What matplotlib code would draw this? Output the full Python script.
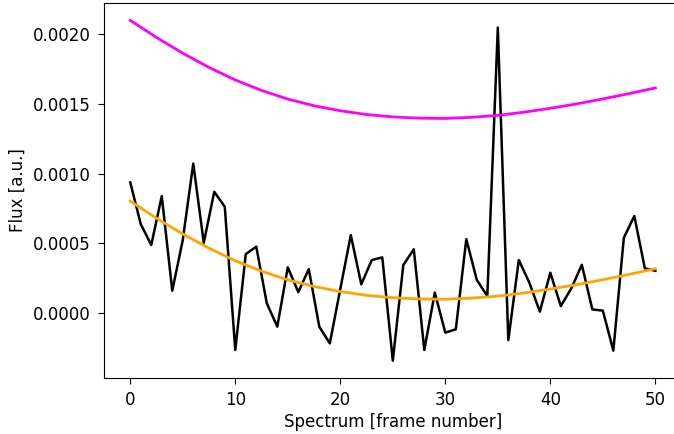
import numpy as np
from matplotlib import pyplot as plt

# frame numbers and measured flux
frames = np.arange(51)
flux = np.array([
    937, 638, 488, 839, 160, 523, 1072, 504, 870, 762,
    -265, 423, 476, 70, -98, 328, 150, 315, -98, -218,
    172, 559, 206, 380, 399, -342, 344, 457, -265, 146,
    -141, -117, 530, 237, 122, 2048, -194, 380, 218, 10,
    289, 50, 177, 346, 26, 17, -270, 540, 696, 320,
    303]) * 1e-6

# smooth curves, read every 2.5 frames
curve_frames = np.arange(0, 50.1, 2.5)
upper_curve = np.array([2100, 1977, 1864, 1762, 1672, 1597, 1535, 1487,
                        1451, 1424, 1407, 1398, 1396, 1404, 1418, 1441,
                        1469, 1500, 1536, 1574, 1615]) * 1e-6
lower_curve = np.array([803, 680, 567, 465, 375, 300, 238, 190,
                        154, 127, 110, 101, 99, 107, 121, 144,
                        172, 203, 239, 277, 318]) * 1e-6

plt.rcParams['font.family'] = ['DejaVu Sans']
plt.rcParams['font.size'] = 12

fig = plt.figure(figsize=(6.74, 4.34), dpi=100)
ax = fig.add_axes([104 / 674, 56.3 / 434, 577.6 / 674, 374.4 / 434])

ax.plot(frames, flux, color='black', lw=1.8)
ax.plot(curve_frames, upper_curve, color='#ff00ff', lw=2)
ax.plot(curve_frames, lower_curve, color='orange', lw=2)

ax.set_xticks([0, 10, 20, 30, 40, 50])
ax.set_yticks([0.0, 0.0005, 0.0010, 0.0015, 0.0020])
ax.set_yticklabels(['0.0000', '0.0005', '0.0010', '0.0015', '0.0020'])
ax.tick_params(length=4.3, pad=5.5)

ax.set_xlabel('Spectrum [frame number]', labelpad=3)
ax.set_ylabel('Flux [a.u.]', labelpad=4.5)

fig.savefig('out.png', dpi=100)
